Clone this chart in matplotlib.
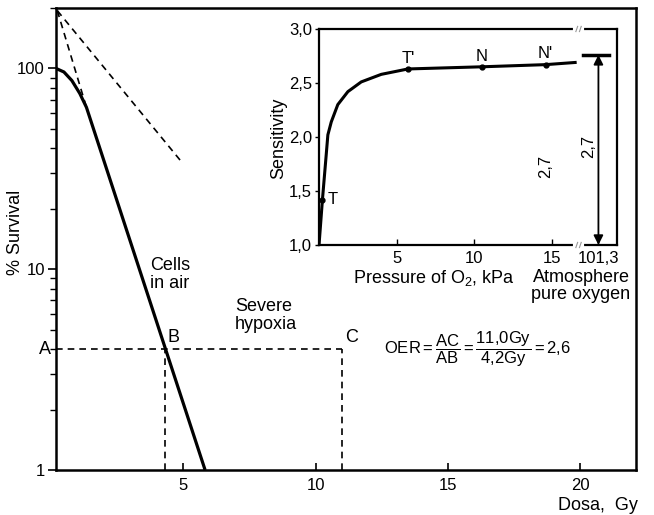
import matplotlib
matplotlib.use('Agg')
import matplotlib.pyplot as plt
from matplotlib.ticker import FixedLocator, FuncFormatter, NullFormatter

plt.rcParams['font.family'] = ['Liberation Sans', 'DejaVu Sans']
plt.rcParams['mathtext.fontset'] = 'custom'
plt.rcParams['mathtext.rm'] = 'Liberation Sans'
plt.rcParams['mathtext.it'] = 'Liberation Sans:italic'

# survival curve of cells in air
air_dose = [0.2, 0.5, 0.8, 1.1, 1.35, 5.83]
air_pct = [100, 96, 87, 75, 64, 1.0]
# dashed extrapolation of the straight part
ext_dose = [0.25, 1.35]
ext_pct = [194, 64]
# dashed line for severe hypoxia
hyp_dose = [0.25, 4.96]
hyp_pct = [194, 34]
# OER construction
oer_level = 4.0
dose_b = 4.3
dose_c = 11.0

# inset: sensitivity vs. pressure of O2
po2 = [0.0, 0.22, 0.46, 0.57, 0.79, 1.21, 1.86, 2.72, 4.01, 5.73, 10.5, 14.6, 16.5]
sens = [1.0, 1.42, 1.83, 2.02, 2.14, 2.30, 2.42, 2.51, 2.58, 2.63, 2.65, 2.67, 2.69]
mark_po2 = [0.22, 5.73, 10.5, 14.6]
mark_sens = [1.42, 2.63, 2.65, 2.67]
mark_labels = ["T", "T'", "N", "N'"]
atm_pos = 18.0
atm_sens = 2.76
inset_ticks = [5, 10, 15, 18]
inset_ticklabels = ['5', '10', '15', '101,3']

fig = plt.figure(figsize=(6.54, 5.15), dpi=100)
ax = fig.add_axes([0.0856, 0.0874, 0.8869, 0.8971])

ax.plot(air_dose, air_pct, color='k', lw=2.3, solid_capstyle='butt')
ax.plot(ext_dose, ext_pct, color='k', lw=1.2, ls=(0, (4, 3)))
ax.plot(hyp_dose, hyp_pct, color='k', lw=1.2, ls=(0, (4, 3)))
ax.plot([0.2, dose_c], [oer_level, oer_level], color='k', lw=1.2, ls=(0, (4, 3)))
ax.plot([dose_b, dose_b], [1, oer_level], color='k', lw=1.2, ls=(0, (4, 3)))
ax.plot([dose_c, dose_c], [1, oer_level], color='k', lw=1.2, ls=(0, (4, 3)))

ax.set_yscale('log')
ax.set_xlim(0.2, 22.1)
ax.set_ylim(1, 200)
ax.set_xticks([5, 10, 15, 20])
ax.yaxis.set_major_locator(FixedLocator([1, 10, 100]))
ax.yaxis.set_major_formatter(FuncFormatter(lambda v, p: '%d' % v))
ax.yaxis.set_minor_formatter(NullFormatter())
ax.tick_params(axis='x', direction='in', length=5, width=1.2, pad=6, labelsize=12)
ax.tick_params(axis='y', which='major', direction='out', length=6, width=1.2, labelsize=12, pad=2)
ax.tick_params(axis='y', which='minor', direction='out', length=4, width=1.0)
for s in ax.spines.values():
    s.set_linewidth(1.8)

ax.text(3.75, 11.5, 'Cells\nin air', ha='left', va='top', fontsize=13, linespacing=1.05)
ax.text(6.96, 7.2, 'Severe\nhypoxia', ha='left', va='top', fontsize=13, linespacing=1.05)
ax.text(4.4, oer_level * 1.04, 'B', ha='left', va='bottom', fontsize=13)
ax.text(11.1, oer_level * 1.04, 'C', ha='left', va='bottom', fontsize=13)
ax.text(0.0, oer_level, 'A', ha='right', va='center', fontsize=13, clip_on=False)
ax.text(12.6, oer_level,
        r'OER$=\dfrac{\mathrm{AC}}{\mathrm{AB}}=\dfrac{\mathrm{11{,}0Gy}}{\mathrm{4{,}2Gy}}=\mathrm{2{,}6}$',
        ha='left', va='center', fontsize=12)

fig.text(15 / 654, 1 - 232 / 515, '% Survival', rotation=90, ha='center', va='center', fontsize=13)
fig.text(638 / 654, 1 - 505 / 515, 'Dosa,  Gy', ha='right', va='center', fontsize=13)

# inset
axi = fig.add_axes([0.4878, 0.5243, 0.4557, 0.4194])
axi.plot(po2, sens, color='k', lw=2.2, solid_joinstyle='round')
axi.plot(mark_po2, mark_sens, 'o', color='k', ms=3.5)
for x, y, t in zip(mark_po2, mark_sens, mark_labels):
    if t == 'T':
        axi.text(x + 0.35, y, t, ha='left', va='center', fontsize=12)
    else:
        axi.text(x, y + 0.03, t, ha='center', va='bottom', fontsize=12)

axi.plot([17.0, 18.7], [atm_sens, atm_sens], color='k', lw=2.5)
axi.annotate('', xy=(atm_pos, 1.0), xytext=(atm_pos, atm_sens),
             arrowprops=dict(arrowstyle='<|-|>', color='k', lw=1.3,
                             mutation_scale=14, shrinkA=0, shrinkB=0))
axi.text(17.35, 1.91, '2,7', rotation=90, ha='center', va='center', fontsize=12)
axi.text(14.6, 1.73, '2,7', rotation=90, ha='center', va='center', fontsize=12)

axi.set_xlim(0, 19.2)
axi.set_ylim(1, 3)
axi.set_xticks(inset_ticks)
axi.set_xticklabels(inset_ticklabels)
axi.set_yticks([1.0, 1.5, 2.0, 2.5, 3.0])
axi.yaxis.set_major_formatter(FuncFormatter(lambda v, p: ('%.1f' % v).replace('.', ',')))
axi.tick_params(axis='x', direction='in', length=4, width=1.0, pad=4, labelsize=12)
axi.tick_params(axis='y', direction='out', length=3, width=1.0, pad=2, labelsize=12)
for s in axi.spines.values():
    s.set_linewidth(1.6)

# axis break marks
brk = 16.7 / 19.2
for yy in (0.0, 1.0):
    axi.plot([brk - 0.012, brk + 0.012], [yy, yy], color='white', lw=3,
             transform=axi.transAxes, clip_on=False, zorder=5)
    for dx in (-0.008, 0.004):
        axi.plot([brk + dx, brk + dx + 0.006], [yy - 0.012, yy + 0.012], color='0.6', lw=0.8,
                 transform=axi.transAxes, clip_on=False, zorder=6)

fig.text(279 / 654, 1 - 138 / 515, 'Sensitivity', rotation=90, ha='center', va='center', fontsize=13)
fig.text(434 / 654, 1 - 278 / 515, 'Pressure of O$_2$, kPa', ha='center', va='center', fontsize=13)
fig.text(581 / 654, 1 - 286 / 515, 'Atmosphere\npure oxygen', ha='center', va='center',
         fontsize=13, linespacing=1.0)

fig.savefig('out.png', dpi=100)
